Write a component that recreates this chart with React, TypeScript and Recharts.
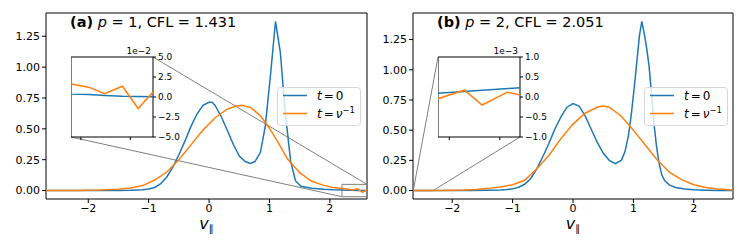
import React from 'react';
import { LineChart, Line, XAxis, YAxis, ReferenceArea, ReferenceLine, Legend } from 'recharts';

const BLUE = '#1f77b4';
const ORANGE = '#ff7f0e';
const FONT = '"DejaVu Sans", sans-serif';

// (a) p = 1 : initial condition t = 0
const xBlueA = [-2.7, -2.2, -1.8, -1.5, -1.3, -1.1, -1.0, -0.9, -0.8, -0.7, -0.6, -0.5, -0.4, -0.3, -0.2, -0.1, 0.0, 0.05, 0.1, 0.2, 0.3, 0.4, 0.5, 0.6, 0.68, 0.76, 0.85, 0.93, 1.02, 1.10, 1.18, 1.26, 1.35, 1.43, 1.52, 1.7, 1.9, 2.05, 2.2, 2.29, 2.37, 2.46, 2.54, 2.615];
const yBlueA = [0, 0, 0.0001, 0.0004, 0.0015, 0.006, 0.012, 0.025, 0.055, 0.11, 0.19, 0.29, 0.4, 0.52, 0.62, 0.69, 0.715, 0.715, 0.69, 0.6, 0.49, 0.375, 0.28, 0.235, 0.22, 0.235, 0.31, 0.52, 0.95, 1.37, 1.12, 0.64, 0.24, 0.08, 0.035, 0.018, 0.01, 0.006, 0.0037, 0.003, 0.002, 0.001, 0.0007, 0.0004];
// (a) t = 1/nu
const xOrangeA = [-2.7, -2.2, -1.8, -1.5, -1.3, -1.1, -0.9, -0.7, -0.5, -0.3, -0.1, 0.1, 0.3, 0.45, 0.55, 0.7, 0.85, 1.0, 1.15, 1.3, 1.5, 1.7, 1.9, 2.05, 2.2, 2.29, 2.37, 2.46, 2.54, 2.615];
const yOrangeA = [0, 0.001, 0.004, 0.01, 0.02, 0.04, 0.085, 0.15, 0.25, 0.37, 0.49, 0.59, 0.66, 0.685, 0.69, 0.67, 0.605, 0.505, 0.385, 0.255, 0.145, 0.075, 0.042, 0.024, 0.0164, 0.0123, 0.0041, 0.0135, -0.0143, 0.0061];

// (b) p = 2
const xBlueB = [-2.65, -2.32, -2.0, -1.7, -1.4, -1.2, -1.1, -1.0, -0.9, -0.8, -0.7, -0.6, -0.5, -0.4, -0.3, -0.2, -0.1, 0.0, 0.1, 0.2, 0.3, 0.4, 0.5, 0.6, 0.7, 0.8, 0.86, 0.92, 0.97, 1.02, 1.06, 1.1, 1.14, 1.18, 1.22, 1.26, 1.3, 1.34, 1.38, 1.42, 1.47, 1.52, 1.6, 1.7, 1.85, 2.0, 2.2, 2.4, 2.65];
const yBlueB = [0.00009, 0.00023, 0.0004, 0.0008, 0.002, 0.004, 0.008, 0.014, 0.027, 0.052, 0.1, 0.18, 0.28, 0.39, 0.51, 0.61, 0.69, 0.72, 0.7, 0.62, 0.51, 0.4, 0.31, 0.25, 0.222, 0.25, 0.32, 0.46, 0.65, 0.88, 1.08, 1.28, 1.4, 1.3, 1.18, 1.03, 0.8, 0.56, 0.38, 0.24, 0.13, 0.08, 0.045, 0.025, 0.013, 0.007, 0.003, 0.0012, 0.0003];
const xOrangeB = [-2.65, -2.54, -2.47, -2.37, -2.32, -2.2, -2.0, -1.8, -1.6, -1.4, -1.2, -1.0, -0.8, -0.6, -0.4, -0.2, 0.0, 0.2, 0.4, 0.5, 0.6, 0.8, 1.0, 1.2, 1.4, 1.6, 1.8, 2.0, 2.2, 2.4, 2.65];
const yOrangeB = [-0.00005, 0.00017, -0.0002, 0.00012, 0.00005, 0.0005, 0.0015, 0.004, 0.009, 0.018, 0.03, 0.048, 0.085, 0.18, 0.29, 0.43, 0.55, 0.64, 0.69, 0.7, 0.69, 0.615, 0.5, 0.375, 0.25, 0.15, 0.09, 0.048, 0.025, 0.012, 0.004];

const xTicks = [-2, -1, 0, 1, 2];
const yTicks = [0, 0.25, 0.5, 0.75, 1, 1.25];
const insetYTicksA = [-5, -2.5, 0, 2.5, 5];
const insetYTicksB = [-1, -0.5, 0, 0.5, 1];
const insetXTicksA = [2.25, 2.5];
const insetXTicksB = [-2.6, -2.4];

const pts = (xs: number[], ys: number[], k = 1) => xs.map((x, i) => ({ x, y: ys[i] * k }));
const minus = (s: string) => s.replace('-', '\u2212');

const PLOT_LEFT = 46;
const PLOT_TOP = 13;
const PLOT_H = 186;
const INSET = { left: 71, top: 57, width: 82, height: 80 };

const panels = [
  {
    tag: '(a)', p: '1', cfl: '1.431', left: 0, right: 13, plotW: 321,
    xDomain: [-2.7, 2.615], yDomain: [-0.0685, 1.4385],
    blue: pts(xBlueA, yBlueA), orange: pts(xOrangeA, yOrangeA),
    zoomX: [2.2, 2.615], zoomY: [-0.05, 0.05], scale: 100, exp: '1e\u22122',
    insetY: insetYTicksA, insetX: insetXTicksA, links: [['tr', 'tr'], ['bl', 'bl']],
  },
  {
    tag: '(b)', p: '2', cfl: '2.051', left: 367, right: 14, plotW: 320,
    xDomain: [-2.65, 2.65], yDomain: [-0.07, 1.47],
    blue: pts(xBlueB, yBlueB), orange: pts(xOrangeB, yOrangeB),
    zoomX: [-2.645, -2.32], zoomY: [-0.001, 0.001], scale: 1000, exp: '1e\u22123',
    insetY: insetYTicksB, insetX: insetXTicksB, links: [['tl', 'tl'], ['br', 'br']],
  },
];

const LegendBox = () => (
  <svg width={84} height={39} style={{ display: 'block' }}>
    <rect x={0.5} y={0.5} width={83} height={38} rx={3} fill="rgba(255,255,255,0.8)" stroke="#d6d6d6" />
    <line x1={6} x2={30} y1={8.5} y2={8.5} stroke={BLUE} strokeWidth={1.5} />
    <line x1={6} x2={30} y1={26.5} y2={26.5} stroke={ORANGE} strokeWidth={1.5} />
    <text x={40} y={13} fontFamily={FONT} fontSize={12} fill="#000">
      <tspan fontStyle="italic">t</tspan>
      <tspan dx={2}>=</tspan>
      <tspan dx={2}>0</tspan>
    </text>
    <text x={40} y={31} fontFamily={FONT} fontSize={12} fill="#000">
      <tspan fontStyle="italic">t</tspan>
      <tspan dx={2}>=</tspan>
      <tspan dx={2} fontStyle="italic">ν</tspan>
      <tspan fontSize={8.5} dy={-5}>−1</tspan>
    </text>
  </svg>
);

function Panel({ cfg }: { cfg: any }) {
  const [x0, x1] = cfg.xDomain;
  const [y0, y1] = cfg.yDomain;
  const toData = (px: number, py: number) => ({
    x: x0 + ((px - PLOT_LEFT) / cfg.plotW) * (x1 - x0),
    y: y1 - ((py - PLOT_TOP) / PLOT_H) * (y1 - y0),
  });
  const tl = toData(INSET.left, INSET.top);
  const br = toData(INSET.left + INSET.width, INSET.top + INSET.height);
  const insetCorner = (c: string) => ({ x: c[1] === 'l' ? tl.x : br.x, y: c[0] === 't' ? tl.y : br.y });
  const rectCorner = (c: string) => ({
    x: c[1] === 'l' ? cfg.zoomX[0] : cfg.zoomX[1],
    y: c[0] === 't' ? cfg.zoomY[1] : cfg.zoomY[0],
  });

  const title = (props: any) => {
    const vb = props.viewBox;
    return (
      <text x={vb.x + 24} y={vb.y + 14} fontFamily={FONT} fontSize={14.5} fill="#000" style={{ whiteSpace: 'pre' }}>
        <tspan fontWeight="bold">{cfg.tag}</tspan>
        <tspan> </tspan>
        <tspan fontStyle="italic">p</tspan>
        <tspan>{` = ${cfg.p}, CFL = ${cfg.cfl}`}</tspan>
      </text>
    );
  };

  const xLabel = (props: any) => {
    const vb = props.viewBox;
    return (
      <text x={vb.x + vb.width / 2} y={vb.y + 30} textAnchor="middle" fontFamily={FONT} fontSize={16} fill="#000">
        <tspan fontStyle="italic">v</tspan>
        <tspan fontSize={10} dy={3}>∥</tspan>
      </text>
    );
  };

  const expLabel = (props: any) => {
    const vb = props.viewBox;
    return (
      <text x={vb.x - 2} y={vb.y - 3} textAnchor="end" fontFamily={FONT} fontSize={9} fill="#000">
        {cfg.exp}
      </text>
    );
  };

  const tickStyle = { fontSize: 11, fill: '#000', fontFamily: FONT };
  const insetBlue = cfg.blue.map((d: any) => ({ x: d.x, y: d.y * cfg.scale }));
  const insetOrange = cfg.orange.map((d: any) => ({ x: d.x, y: d.y * cfg.scale }));
  const iy = cfg.insetY;

  return (
    <div style={{ position: 'absolute', left: cfg.left, top: 0, width: 380, height: 249 }}>
      <LineChart width={380} height={249} margin={{ top: PLOT_TOP, right: cfg.right, left: 0, bottom: 0 }}>
        <XAxis
          type="number"
          dataKey="x"
          domain={cfg.xDomain}
          allowDataOverflow
          ticks={xTicks}
          tickFormatter={(v: number) => minus(String(v))}
          tick={tickStyle}
          tickSize={4}
          tickMargin={1}
          tickLine={{ stroke: '#000' }}
          axisLine={false}
          height={50}
          label={xLabel}
        />
        <YAxis
          type="number"
          dataKey="y"
          domain={cfg.yDomain}
          allowDataOverflow
          ticks={yTicks}
          tickFormatter={(v: number) => v.toFixed(2)}
          tick={tickStyle}
          tickSize={4}
          tickLine={{ stroke: '#000' }}
          axisLine={false}
          width={PLOT_LEFT}
        />
        <ReferenceArea x1={x0} x2={x1} y1={y0} y2={y1} fill="none" stroke="#000" strokeWidth={1} label={title} />
        <ReferenceArea
          x1={cfg.zoomX[0]} x2={cfg.zoomX[1]} y1={cfg.zoomY[0]} y2={cfg.zoomY[1]}
          fill="none" stroke="#808080" strokeWidth={1} ifOverflow="visible"
        />
        {cfg.links.map((l: string[], i: number) => (
          <ReferenceLine
            key={i}
            segment={[insetCorner(l[0]), rectCorner(l[1])]}
            stroke="#808080"
            strokeWidth={1}
            ifOverflow="visible"
          />
        ))}
        <Line data={cfg.blue} dataKey="y" name="t = 0" type="linear" stroke={BLUE} strokeWidth={1.5} dot={false} isAnimationActive={false} />
        <Line data={cfg.orange} dataKey="y" name="t = 1/nu" type="linear" stroke={ORANGE} strokeWidth={1.5} dot={false} isAnimationActive={false} />
        <Legend
          layout="horizontal"
          verticalAlign="middle"
          align="center"
          wrapperStyle={{ left: 277, top: 87, width: 84, height: 39 }}
          content={() => <LegendBox />}
        />
      </LineChart>

      <div style={{ position: 'absolute', left: INSET.left, top: INSET.top - 14 }}>
        <LineChart width={INSET.width + 34} height={INSET.height + 14 + 5} margin={{ top: 14, right: 0, left: 0, bottom: 0 }}>
          <XAxis
            type="number"
            dataKey="x"
            domain={cfg.zoomX}
            allowDataOverflow
            ticks={cfg.insetX}
            tickFormatter={() => ''}
            tickSize={3}
            tickLine={{ stroke: '#000' }}
            axisLine={false}
            height={5}
          />
          <YAxis
            type="number"
            dataKey="y"
            orientation="right"
            domain={[iy[0], iy[iy.length - 1]]}
            allowDataOverflow
            ticks={iy}
            tickFormatter={(v: number) => minus(v.toFixed(1))}
            tick={{ fontSize: 9, fill: '#000', fontFamily: FONT }}
            tickSize={3}
            tickMargin={2}
            tickLine={{ stroke: '#000' }}
            axisLine={false}
            width={34}
            label={expLabel}
          />
          <ReferenceArea
            x1={cfg.zoomX[0]} x2={cfg.zoomX[1]} y1={iy[0]} y2={iy[iy.length - 1]}
            fill="none" stroke="#000" strokeWidth={1}
          />
          <Line data={insetBlue} dataKey="y" type="linear" stroke={BLUE} strokeWidth={1.5} dot={false} isAnimationActive={false} />
          <Line data={insetOrange} dataKey="y" type="linear" stroke={ORANGE} strokeWidth={1.5} dot={false} isAnimationActive={false} />
        </LineChart>
      </div>
    </div>
  );
}

export default function App() {
  return (
    <div style={{ position: 'absolute', left: 0, top: 0, width: 747, height: 249, background: '#fff', overflow: 'hidden', fontFamily: FONT }}>
      {panels.map((cfg) => (
        <Panel key={cfg.tag} cfg={cfg} />
      ))}
    </div>
  );
}
